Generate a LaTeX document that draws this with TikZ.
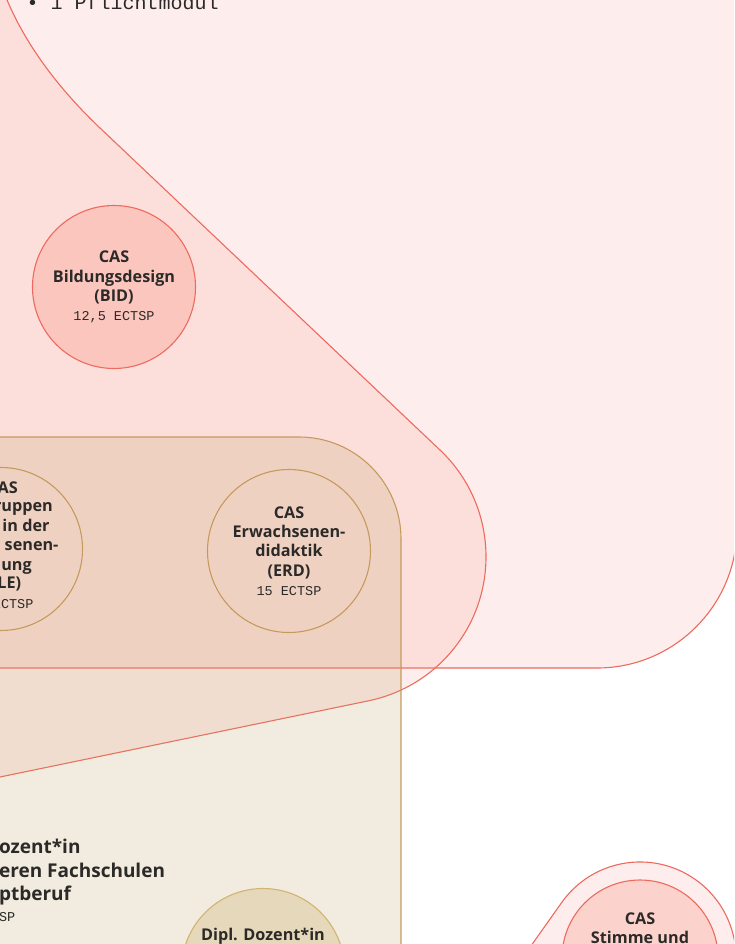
\documentclass[tikz,border=0pt]{standalone}
\usepackage{fontspec}
\setmainfont{Open Sans}
\setmonofont{Liberation Mono}

\definecolor{lachs}{HTML}{F5968C}
\definecolor{rotlinie}{HTML}{EE6A5F}
\definecolor{sand}{HTML}{BE9B5F}
\definecolor{sandlinie}{HTML}{C49A5E}
\definecolor{goldlinie}{HTML}{D2B472}
\definecolor{tinte}{HTML}{2B2A28}
\definecolor{bidfill}{HTML}{FAC6BE}
\definecolor{stimmefill}{HTML}{FCD2CC}
\definecolor{diplfill}{HTML}{E6D8BA}

\newcommand{\castext}{\fontsize{16.2}{19.2}\selectfont\bfseries}
\newcommand{\ects}[1]{{\fontsize{13.5}{19.2}\selectfont\ttfamily\mdseries #1}}

\begin{document}
\begin{tikzpicture}[x=1pt,y=1pt,line width=1.1pt,
  rosa/.style={draw=rotlinie,fill=lachs,fill opacity=.17},
  sandbox/.style={draw=sandlinie,fill=sand,fill opacity=.2},
  cas/.style={draw,shape=circle,minimum size=163pt,inner sep=0pt,align=center,text=tinte,font=\castext},
  schrift/.style={inner sep=0pt,text=tinte,font=\castext}]

      \useasboundingbox (0,0) rectangle (734,-944);
      \clip (0,0) rectangle (734,-944);

      % Flaechen
      \path[rosa,rounded corners=140pt] (-300,300) rectangle (737,-668);
      \path[rosa] (-150,40) -- (-3,25) -- (5,5) .. controls (25,-45) and (60,-90) .. (100,-128)
         -- (440,-450) arc[start angle=46.6,end angle=-78.2,radius=147]
         -- (-150,-808) -- cycle;
      \path[sandbox,rounded corners=102pt] (-300,-437) rectangle (401,-1300);
      \path[rosa] (492,-1001) -- (561.4,-902.9) arc[start angle=145,end angle=-40,radius=96] -- cycle;

      \path (26,-9.3) node[schrift,anchor=base west,font=\fontsize{20}{24}\selectfont\ttfamily] (pflicht) {• 1 Pflichtmodul};

      % CAS
      \path (114,-287) node[cas,draw=rotlinie,fill=bidfill] (bid) {CAS\\Bildungsdesign\\(BID)\\\ects{12,5 ECTSP}};
      \path (289,-551) node[cas,draw=sandlinie] (erd) {CAS\\Erwachsenen-\\didaktik\\(ERD)\\\ects{15 ECTSP}};
      \path (1,-549) node[cas,draw=sandlinie] (gle) {};
      \foreach \teil/\xr/\yb [count=\i] in {AS/18.3/493.3,ruppen/53.3/511.7,in der/50/531,senen-/59/550,dung/32.3/570,LE)/21.7/588}
         \path (\xr,-\yb) node[schrift,anchor=base east] (gle\i) {\teil};
      \path (34,-608) node[schrift,anchor=base east] (gleects) {\ects{ECTSP}};

      % Diplom
      \foreach \teil/\yb [count=\i] in {ozent*in/853,eren Fachschulen/877,ptberuf/900.5}
         \path (-1.5,-\yb) node[schrift,anchor=base west,font=\fontsize{19}{24}\selectfont\bfseries] (dipl\i) {\teil};
      \path (-1.5,-921.5) node[schrift,anchor=base west] (diplects) {\ects{SP}};
      \path (263,-970) node[cas,draw=goldlinie,fill=diplfill] (dipl) {};
      \path (263,-940) node[schrift,anchor=base] (dipltitel) {Dipl. Dozent*in};

      % Stimme
      \path (640,-958) node[cas,draw=rotlinie,fill=stimmefill,minimum size=156pt] (stimme) {};
      \path (640,-924) node[schrift,anchor=base] (stimmecas) {CAS};
      \path (640,-943.5) node[schrift,anchor=base] (stimmename) {Stimme und};
   \end{tikzpicture}
\end{document}
